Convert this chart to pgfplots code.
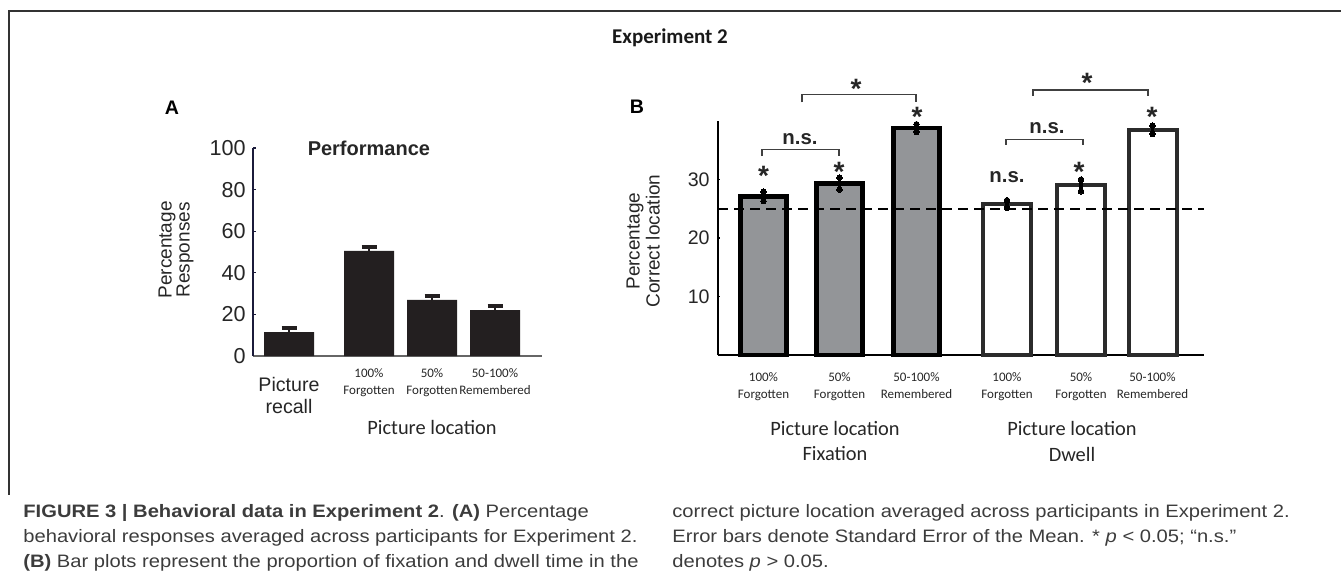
\documentclass[border=0pt]{standalone}
\usepackage{pgfplots}
\usepackage{pgfplotstable}
\pgfplotsset{compat=1.18}
\usepackage{fontspec}
\setmainfont{Liberation Sans}
\newfontfamily\carlito{Carlito}
\newfontfamily\capfont[FakeStretch=1.12, Ligatures=TeX]{Liberation Sans}

\definecolor{barA}{HTML}{231F20}
\definecolor{fixgray}{HTML}{939598}
\definecolor{dwellline}{HTML}{2B2B2B}
\definecolor{captxt}{HTML}{3C3C3C}
\definecolor{yaxA}{HTML}{1B1B3A}

% panel A: x = bar centre in px from the y axis
\pgfplotstableread{
x    y     e
36   11.5  2.0
116  50.5  2.0
179  27.0  2.0
242  22.0  2.0
}\perfdata

% panel B
\pgfplotstableread{
x      y     e
45.5   27.1  0.8
121.5  29.3  1.0
198.5  38.8  0.65
}\fixdata
\pgfplotstableread{
x      y     e
289    25.8  0.65
363    29.0  1.0
434.5  38.5  0.7
}\dwelldata

\newcommand{\tlab}[2]{\begin{tabular}{@{}c@{}}#1\\#2\end{tabular}}

\begin{document}
\begin{tikzpicture}
\path[use as bounding box] (0,0) rectangle (670.5pt,287.5pt);

% frame
\draw[line width=0.6pt, black!80] (670.5pt,282pt) -- (4.5pt,282pt) -- (4.5pt,40pt);

\node[font=\carlito\bfseries\fontsize{10.5}{12}\selectfont, text=black!90] at (335pt,268.5pt) {Experiment 2};
\node[font=\bfseries\fontsize{9.8}{11}\selectfont] at (86pt,233.5pt) {A};
\node[font=\bfseries\fontsize{9.8}{11}\selectfont] at (318.5pt,234pt) {B};

% ---------------- panel A ----------------
\begin{axis}[
  at={(126.5pt,109.5pt)}, anchor=south west,
  scale only axis, width=144.5pt, height=104pt,
  xmin=0, xmax=289, ymin=0, ymax=100,
  axis x line*=bottom, axis y line*=left,
  x axis line style={draw=gray!80!black, line width=0.65pt},
  y axis line style={draw=yaxA, line width=0.6pt},
  ytick={0,20,40,60,80,100},
  tick align=inside, major tick length=1.5pt,
  y tick style={draw=yaxA, line width=0.6pt},
  x tick style={draw=none},
  xtick={116,179,242},
  xticklabels={\tlab{100\%}{Forgotten},\tlab{50\%}{Forgotten},\tlab{50-100\%}{Remembered}},
  xticklabel style={anchor=center, inner sep=0pt, yshift=-11.75pt,
    font=\carlito\fontsize{6.5}{8.5}\selectfont, text=black!85},
  yticklabel style={inner sep=0pt, xshift=-3.5pt, font=\fontsize{10.8}{12}\selectfont, text=black!85},
  /pgf/number format/assume math mode=true,
  ybar, bar shift=0pt, bar width=50,
  clip=false,
]
\addplot[fill=barA, draw=none,
  error bars/.cd, y dir=plus, y explicit, error mark=|,
  error bar style={line width=1pt, barA},
  error mark options={line width=2pt, mark size=3.75pt, barA}]
  table[x=x, y=y, y error=e] {\perfdata};

\node[font=\bfseries\fontsize{10}{12}\selectfont, text=black!85] at (rel axis cs:0.401,1) {Performance};
\node[rotate=90, align=center, font=\fontsize{9.5}{9}\selectfont, text=black!85] at (rel axis cs:-0.266,0.51) {Percentage\\Responses};
\node[font=\fontsize{9.8}{11}\selectfont, text=black!85] at (axis cs:36,0) [yshift=-21.25pt] {\tlab{Picture}{recall}};
\end{axis}
\node[font=\carlito\fontsize{10.2}{12}\selectfont, text=black!85] at (216pt,74pt) {Picture location};

% ---------------- panel B ----------------
\begin{axis}[
  at={(359pt,110pt)}, anchor=south west,
  scale only axis, width=243pt, height=117pt,
  xmin=0, xmax=486, ymin=0, ymax=40,
  axis x line*=bottom, axis y line*=left,
  x axis line style={draw=black, line width=0.7pt},
  y axis line style={draw=black, line width=0.6pt},
  ytick={10,20,30},
  tick align=inside, major tick length=1pt,
  y tick style={draw=black, line width=0.6pt},
  x tick style={draw=none},
  xtick={45.5,121.5,198.5,289,363,434.5},
  xticklabels={\tlab{100\%}{Forgotten},\tlab{50\%}{Forgotten},\tlab{50-100\%}{Remembered},
               \tlab{100\%}{Forgotten},\tlab{50\%}{Forgotten},\tlab{50-100\%}{Remembered}},
  xticklabel style={anchor=center, inner sep=0pt, yshift=-14.75pt,
    font=\carlito\fontsize{6.5}{8.5}\selectfont, text=black!85},
  yticklabel style={inner sep=0pt, xshift=-4pt, font=\fontsize{9.8}{11}\selectfont, text=black!85},
  /pgf/number format/assume math mode=true,
  ybar, bar shift=0pt,
  clip=false,
]
\addplot[fill=fixgray, draw=black, line width=2.4pt, bar width=46,
  error bars/.cd, y dir=both, y explicit, error mark=*,
  error bar style={line width=1.6pt, black},
  error mark options={mark size=1.4pt, fill=black, draw=black, line width=0pt}]
  table[x=x, y=y, y error=e] {\fixdata};
\addplot[fill=white, draw=dwellline, line width=2pt, bar width=48,
  error bars/.cd, y dir=both, y explicit, error mark=*,
  error bar style={line width=1.6pt, black},
  error mark options={mark size=1.4pt, fill=black, draw=black, line width=0pt}]
  table[x=x, y=y, y error=e] {\dwelldata};
\addplot[sharp plot, black, line width=1pt, dash pattern=on 5pt off 3pt, forget plot]
  coordinates {(0,25) (486,25)};

% significance brackets
\draw[line width=0.55pt, black!75] (axis cs:44,34.0) |- (axis cs:121,35.2) -- (axis cs:121,34.0);
\draw[line width=0.55pt, black!75] (axis cs:84,43.2) |- (axis cs:198,44.6) -- (axis cs:198,43.2);
\draw[line width=0.55pt, black!75] (axis cs:288,35.9) |- (axis cs:365,36.9) -- (axis cs:365,35.9);
\draw[line width=0.55pt, black!75] (axis cs:315,44.3) |- (axis cs:430,45.3) -- (axis cs:430,44.3);

\tikzset{sigstar/.style={font=\bfseries\fontsize{14}{14}\selectfont, text=black!85, yshift=-2.2pt, inner sep=0pt},
         nslab/.style={font=\bfseries\fontsize{10.2}{12}\selectfont, text=black!85, inner sep=0pt}}
\node[sigstar] at (axis cs:45.5,31.3) {*};
\node[sigstar] at (axis cs:121,32.1) {*};
\node[sigstar] at (axis cs:199,41.5) {*};
\node[sigstar] at (axis cs:361,32.1) {*};
\node[sigstar] at (axis cs:434,41.5) {*};
\node[sigstar] at (axis cs:138,46.3) {*};
\node[sigstar] at (axis cs:369,47.2) {*};
\node[nslab] at (axis cs:289,30.4) {n.s.};
\node[nslab] at (axis cs:82,36.9) {n.s.};
\node[nslab] at (axis cs:329,38.8) {n.s.};

\node[rotate=90, align=center, font=\fontsize{9.5}{10}\selectfont, text=black!85] at (rel axis cs:-0.154,0.487) {Percentage\\Correct location};
\end{axis}
\node[font=\carlito\fontsize{10.2}{12}\selectfont, text=black!85] at (417.5pt,73.5pt) {Picture location};
\node[font=\carlito\fontsize{10.2}{12}\selectfont, text=black!85] at (417.5pt,60.5pt) {Fixation};
\node[font=\carlito\fontsize{10.2}{12}\selectfont, text=black!85] at (536pt,73.5pt) {Picture location};
\node[font=\carlito\fontsize{10.2}{12}\selectfont, text=black!85] at (536pt,60.5pt) {Dwell};

% ---------------- caption ----------------
\tikzset{capline/.style={anchor=base west, inner sep=0pt, text=captxt, font=\capfont\fontsize{9}{10}\selectfont}}
\node[capline] at (11.5pt,29pt) {\textbf{FIGURE 3 \textbar\ Behavioral data in Experiment 2}. \textbf{(A)} Percentage};
\node[capline] at (11.5pt,16.5pt) {behavioral responses averaged across participants for Experiment 2.};
\node[capline] at (11.5pt,4pt) {\textbf{(B)} Bar plots represent the proportion of fixation and dwell time in the};
\node[capline] at (336pt,29pt) {correct picture location averaged across participants in Experiment 2.};
\node[capline] at (336pt,16.5pt) {Error bars denote Standard Error of the Mean. * \textit{p} < 0.05; “n.s.”};
\node[capline] at (336pt,4pt) {denotes \textit{p} > 0.05.};
\end{tikzpicture}
\end{document}
